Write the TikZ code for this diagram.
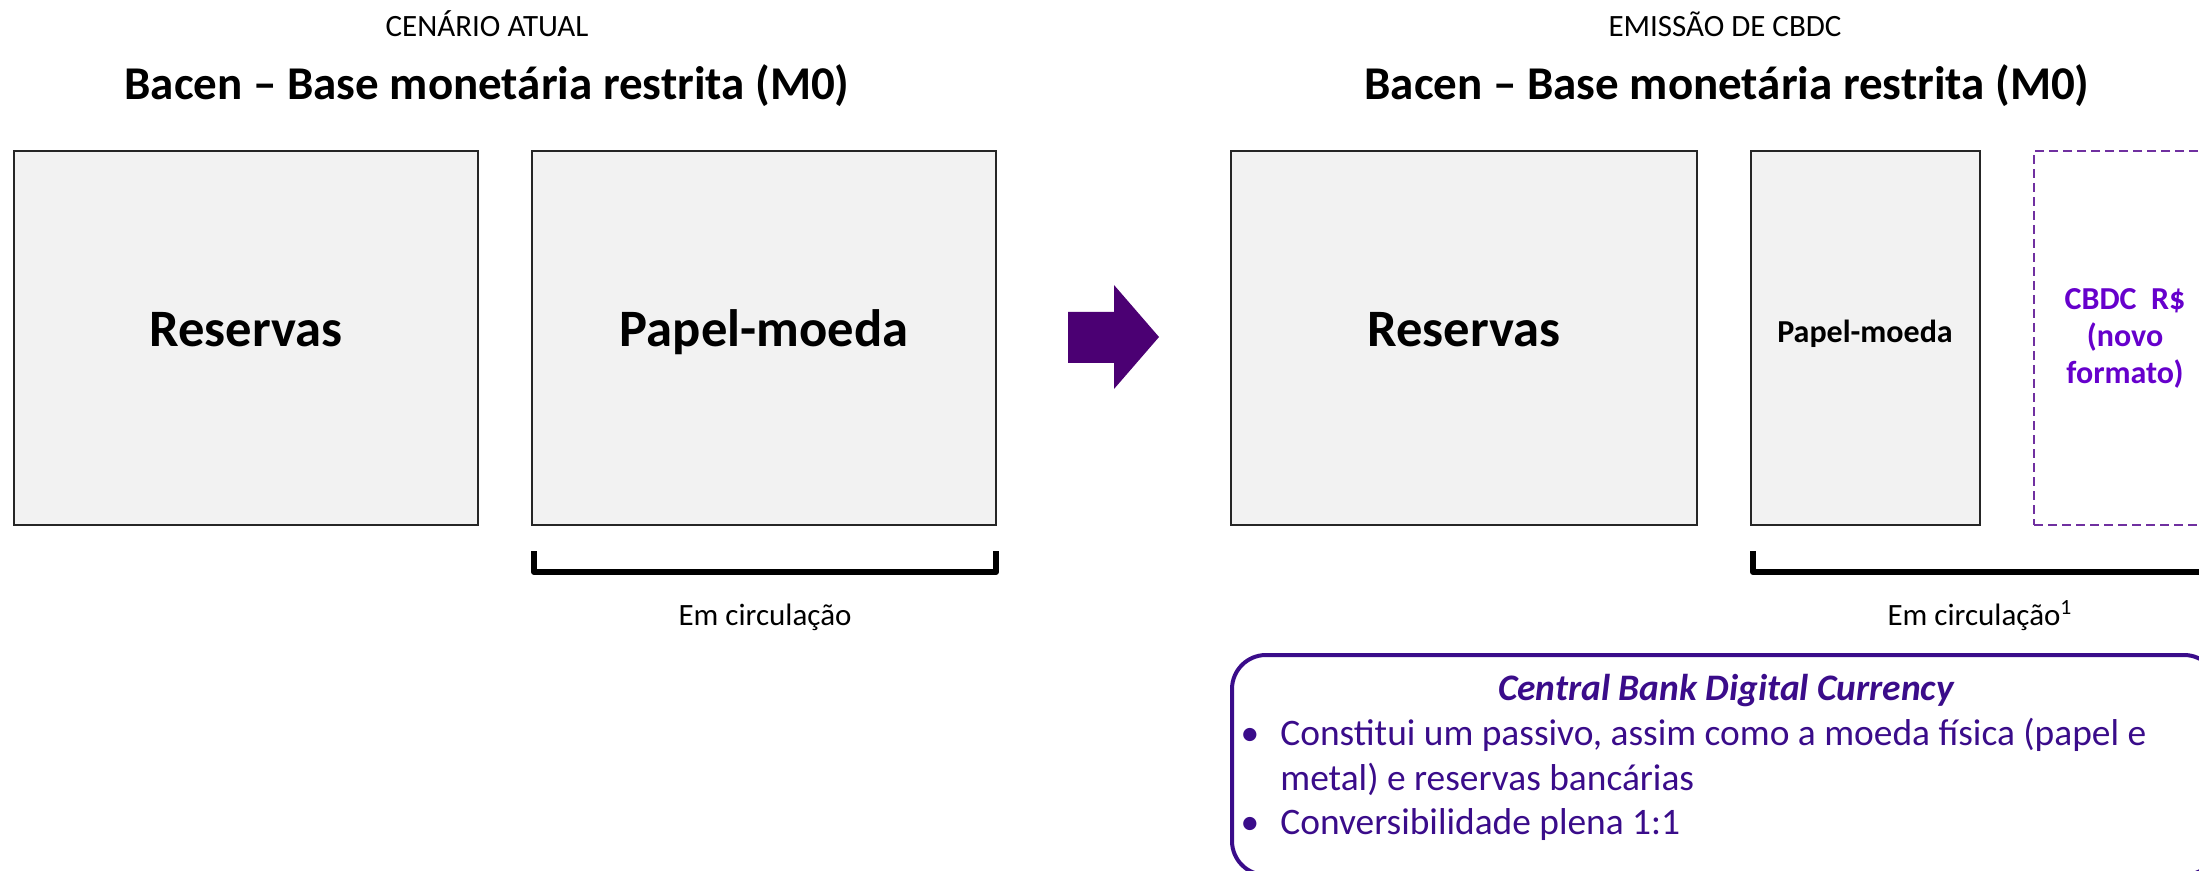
\documentclass[tikz,border=0pt]{standalone}
\usepackage{fontspec}
\setmainfont{Carlito}
\definecolor{boxgray}{HTML}{F2F2F2}
\definecolor{arrowc}{RGB}{75,0,115}
\definecolor{cbdctext}{RGB}{102,0,204}
\definecolor{dashc}{RGB}{112,48,160}
\definecolor{infoc}{RGB}{58,12,138}
\tikzset{
  gbox/.style={draw=black!85, line width=1pt, fill=boxgray, inner sep=0pt},
  bigtxt/.style={font=\bfseries\fontsize{26.3}{30}\selectfont, text height=8.5pt, text depth=0pt},
  smalltxt/.style={font=\bfseries\fontsize{16}{18.5}\selectfont},
  dbox/.style={draw=dashc, line width=1pt, dash pattern=on 4.5pt off 2.5pt, inner sep=0pt, text=cbdctext, align=center, font=\bfseries\fontsize{16}{18.5}\selectfont},
  brk/.style={draw=black, line width=3pt, line join=round},
  subtitle/.style={anchor=base, font=\fontsize{15.5}{18}\selectfont},
  title/.style={anchor=base, font=\bfseries\fontsize{23.5}{28}\selectfont},
  circ/.style={anchor=base, font=\fontsize{15.5}{18}\selectfont},
  infobox/.style={draw=infoc, line width=2pt, rounded corners=17pt, inner sep=0pt},
  infotxt/.style={text=infoc, font=\fontsize{18.7}{22}\selectfont, inner sep=0pt}
}
\begin{document}
\begin{tikzpicture}[x=0.5pt,y=-0.5pt]
\useasboundingbox (0,0) rectangle (2199,871);

% titles
\node[subtitle] (st1) at (487,37) {CENÁRIO ATUAL};
\node[title] (t1) at (487,100) {Bacen – Base monetária restrita (M0)};
\node[subtitle] (st2) at (1725,37) {EMISSÃO DE CBDC};
\node[title] (t2) at (1727,100) {Bacen – Base monetária restrita (M0)};

% left boxes
\node[gbox, bigtxt, minimum width=232pt, minimum height=187pt] (r1) at (246,338) {Reservas};
\node[gbox, bigtxt, minimum width=232pt, minimum height=187pt] (p1) at (764,338) {Papel-moeda};

% arrow
\fill[arrowc] (1068,312) -- (1114,312) -- (1114,285) -- (1159,337) -- (1114,389) -- (1114,363) -- (1068,363) -- cycle;

% right boxes
\node[gbox, bigtxt, minimum width=233pt, minimum height=187pt] (r2) at (1464,338) {Reservas};
\node[gbox, smalltxt, text height=5pt, text depth=0pt, minimum width=114.5pt, minimum height=187pt] (p2) at (1865,338) {Papel-moeda};
\node[dbox, minimum width=91pt, minimum height=187pt] (c2) at (2125,338) {CBDC\ \ R\$\\(novo\\formato)};

% brackets
\draw[brk] (534,551) -- (534,572) -- (996,572) -- (996,551);
\draw[brk] (1753,551) -- (1753,572) -- (2216,572) -- (2216,551);
\node[circ] (ec1) at (765,625) {Em circulação};
\node[circ] (ec2) at (1980,625) {Em circulação\textsuperscript{1}};

% info box
\node[infobox, minimum width=493pt, minimum height=110pt] (info) at (1725,765) {};
\node[infotxt, anchor=base, font=\bfseries\itshape\fontsize{18.7}{22}\selectfont] (it) at (1726,700) {Central Bank Digital Currency};
\node[infotxt, anchor=base] (b1) at (1250,745) {•};
\node[infotxt, anchor=base west] (l1) at (1280,745) {Constitui um passivo, assim como a moeda física (papel e};
\node[infotxt, anchor=base west] (l2) at (1280,790) {metal) e reservas bancárias};
\node[infotxt, anchor=base] (b2) at (1250,834) {•};
\node[infotxt, anchor=base west] (l3) at (1280,834) {Conversibilidade plena 1:1};
\end{tikzpicture}
\end{document}
